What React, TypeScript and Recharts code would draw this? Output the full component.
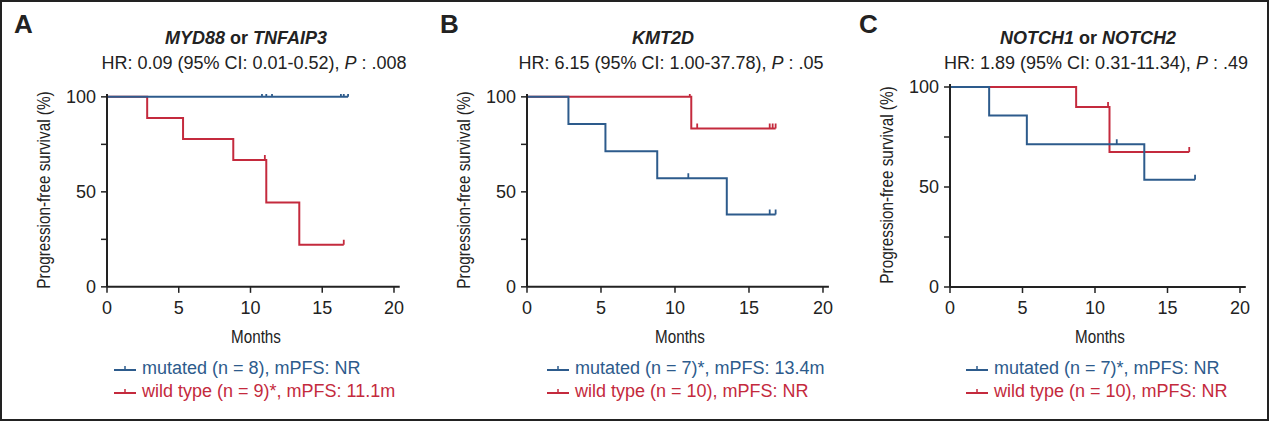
//Kaplan-Meier panels drawn with Recharts step lines
import React from "react";
import { LineChart, Line, XAxis, YAxis } from "recharts";

const BLUE = "#2d5b8c";
const RED = "#c42a3d";
const INK = "#222";
const SANS = "'Liberation Sans', Arial, Helvetica, sans-serif";

// A: MYD88 or TNFAIP3 (t = months, s = survival %, c = censored)
const aMutT = [0, 10.8, 11.1, 11.5, 16.3, 16.5, 16.8];
const aMutS = [100, 100, 100, 100, 100, 100, 100];
const aMutC = [0, 1, 1, 1, 1, 1, 1];
const aWildT = [0, 2.8, 5.3, 8.8, 11.0, 11.1, 13.4, 16.5];
const aWildS = [100, 88.9, 77.8, 66.7, 66.7, 44.4, 22.2, 22.2];
const aWildC = [0, 0, 0, 0, 1, 0, 0, 1];

// B: KMT2D
const bMutT = [0, 2.8, 5.3, 8.8, 10.9, 13.5, 16.4, 16.8];
const bMutS = [100, 85.7, 71.4, 57.1, 57.1, 38.1, 38.1, 38.1];
const bMutC = [0, 0, 0, 0, 1, 0, 1, 1];
const bWildT = [0, 11.0, 11.1, 11.5, 16.4, 16.6, 16.8];
const bWildS = [100, 100, 83.3, 83.3, 83.3, 83.3, 83.3];
const bWildC = [0, 1, 0, 1, 1, 1, 1];

// C: NOTCH1 or NOTCH2
const cMutT = [0, 2.7, 5.3, 11.5, 13.4, 16.9];
const cMutS = [100, 85.7, 71.4, 71.4, 53.6, 53.6];
const cMutC = [0, 0, 0, 1, 0, 1];
const cWildT = [0, 8.7, 10.9, 11.0, 16.5];
const cWildS = [100, 90, 90, 67.5, 67.5];
const cWildC = [0, 0, 1, 0, 1];

const xTicks = [0, 5, 10, 15, 20];
const yTicks = [0, 25, 50, 75, 100];
const yLabelled = [0, 50, 100];

const rows = (t: number[], s: number[], c: number[]) =>
  t.map((v, i) => ({ t: v, s: s[i], c: c[i] }));

const XMAX = 20.4;
const YMAX = 101.5;
const YW = 60;
const XH = 36;

type Geo = { x0: number; x20: number; y0: number; y100: number };

const censorDot = (color: string) => (props: any) => {
  const { cx, cy, payload, index } = props;
  if (!payload || !payload.c) return <g key={"d" + index} />;
  return (
    <line
      key={"d" + index}
      x1={cx}
      x2={cx}
      y1={cy}
      y2={cy - 5}
      stroke={color}
      strokeWidth={1.8}
    />
  );
};

const YTick = (props: any) => {
  const { x, y, payload } = props;
  if (!yLabelled.includes(payload.value)) return <g />;
  return (
    <text x={x} y={y} dx={-3} dy={6} textAnchor="end" fontSize={18} fill={INK} fontFamily={SANS}>
      {payload.value}
    </text>
  );
};

function KM({
  geo,
  mut,
  wild,
}: {
  geo: Geo;
  mut: { t: number; s: number; c: number }[];
  wild: { t: number; s: number; c: number }[];
}) {
  const plotW = ((geo.x20 - geo.x0) * XMAX) / 20;
  const plotH = ((geo.y0 - geo.y100) * YMAX) / 100;
  const top = geo.y0 - plotH - 10;
  return (
    <div style={{ position: "absolute", left: geo.x0 - YW, top }}>
      <LineChart
        width={YW + plotW + 10}
        height={10 + plotH + XH}
        margin={{ top: 10, right: 10, left: 0, bottom: 0 }}
      >
        <XAxis
          dataKey="t"
          type="number"
          domain={[0, XMAX]}
          ticks={xTicks}
          allowDataOverflow
          height={XH}
          axisLine={{ stroke: INK, strokeWidth: 2 }}
          tickLine={{ stroke: INK, strokeWidth: 1.5 }}
          tickSize={6}
          tickMargin={8}
          tick={{ fontSize: 18, fill: INK, fontFamily: SANS }}
        />
        <YAxis
          type="number"
          domain={[0, YMAX]}
          ticks={yTicks}
          width={YW}
          allowDataOverflow
          axisLine={{ stroke: INK, strokeWidth: 2 }}
          tickLine={{ stroke: INK, strokeWidth: 1.5 }}
          tickSize={6}
          tick={<YTick />}
        />
        <Line
          data={wild}
          dataKey="s"
          type="stepAfter"
          stroke={RED}
          strokeWidth={2}
          dot={censorDot(RED)}
          activeDot={false}
          isAnimationActive={false}
        />
        <Line
          data={mut}
          dataKey="s"
          type="stepAfter"
          stroke={BLUE}
          strokeWidth={2}
          dot={censorDot(BLUE)}
          activeDot={false}
          isAnimationActive={false}
        />
      </LineChart>
    </div>
  );
}

const at = (x: number, y: number, extra: React.CSSProperties = {}): React.CSSProperties => ({
  position: "absolute",
  left: x,
  top: y,
  transform: "translate(-50%, -50%)",
  whiteSpace: "nowrap",
  fontFamily: SANS,
  color: INK,
  ...extra,
});

function Glyph({ color }: { color: string }) {
  return (
    <svg width={22} height={10} style={{ display: "block" }}>
      <line x1={0} x2={22} y1={6} y2={6} stroke={color} strokeWidth={2} />
      <line x1={11} x2={11} y1={6} y2={2} stroke={color} strokeWidth={1.5} />
    </svg>
  );
}

function LegendRow({ x, y, color, label }: { x: number; y: number; color: string; label: string }) {
  return (
    <div
      style={{
        position: "absolute",
        left: x,
        top: y - 11,
        display: "flex",
        alignItems: "center",
        gap: 6,
        fontFamily: SANS,
        fontSize: 18,
        color,
        whiteSpace: "nowrap",
      }}
    >
      <Glyph color={color} />
      <span>{label}</span>
    </div>
  );
}

function PanelText({
  letter,
  letterX,
  title,
  hr,
  p,
  cx,
  geo,
  legX,
  mutLabel,
  wildLabel,
}: {
  letter: string;
  letterX: number;
  title: React.ReactNode;
  hr: string;
  p: string;
  cx: number;
  geo: Geo;
  legX: number;
  mutLabel: string;
  wildLabel: string;
}) {
  const mid = (geo.x0 + geo.x20) / 2;
  return (
    <>
      <div style={{ position: "absolute", left: letterX, top: 9, fontFamily: SANS, fontSize: 26, fontWeight: 700, color: INK }}>
        {letter}
      </div>
      <div style={at(cx - 8, 38, { fontSize: 18, fontWeight: 700 })}>{title}</div>
      <div style={at(cx, 63, { fontSize: 18 })}>
        {hr}, <i>P</i> : {p}
      </div>
      <div
        style={at(geo.x0 - 63, (geo.y0 + geo.y100) / 2 - 2, {
          fontSize: 18,
          transform: "translate(-50%, -50%) rotate(-90deg) scaleX(0.85)",
        })}
      >
        Progression-free survival (%)
      </div>
      <div style={at(mid + 5, 337, { fontSize: 19, transform: "translate(-50%, -50%) scaleX(0.8)" })}>Months</div>
      <LegendRow x={legX} y={369} color={BLUE} label={mutLabel} />
      <LegendRow x={legX} y={392} color={RED} label={wildLabel} />
    </>
  );
}

const geoA: Geo = { x0: 107, x20: 394, y0: 287, y100: 97 };
const geoB: Geo = { x0: 527, x20: 823, y0: 287, y100: 97 };
const geoC: Geo = { x0: 950, x20: 1240, y0: 287, y100: 87 };

export default function App() {
  return (
    <div
      style={{
        position: "absolute",
        left: 0,
        top: 0,
        width: 1269,
        height: 421,
        boxSizing: "border-box",
        border: "2px solid #222",
        background: "#fff",
      }}
    >
      <div style={{ position: "absolute", left: -2, top: -2 }}>
        <KM geo={geoA} mut={rows(aMutT, aMutS, aMutC)} wild={rows(aWildT, aWildS, aWildC)} />
        <KM geo={geoB} mut={rows(bMutT, bMutS, bMutC)} wild={rows(bWildT, bWildS, bWildC)} />
        <KM geo={geoC} mut={rows(cMutT, cMutS, cMutC)} wild={rows(cWildT, cWildS, cWildC)} />
        <PanelText
          letter="A"
          letterX={14}
          title={<><i>MYD88</i> or <i>TNFAIP3</i></>}
          hr="HR: 0.09 (95% CI: 0.01-0.52)"
          p=".008"
          cx={254}
          geo={geoA}
          legX={114}
          mutLabel="mutated (n = 8), mPFS: NR"
          wildLabel="wild type (n = 9)*, mPFS: 11.1m"
        />
        <PanelText
          letter="B"
          letterX={440}
          title={<i>KMT2D</i>}
          hr="HR: 6.15 (95% CI: 1.00-37.78)"
          p=".05"
          cx={671}
          geo={geoB}
          legX={547}
          mutLabel="mutated (n = 7)*, mPFS: 13.4m"
          wildLabel="wild type (n = 10), mPFS: NR"
        />
        <PanelText
          letter="C"
          letterX={859}
          title={<><i>NOTCH1</i> or <i>NOTCH2</i></>}
          hr="HR: 1.89 (95% CI: 0.31-11.34)"
          p=".49"
          cx={1096}
          geo={geoC}
          legX={966}
          mutLabel="mutated (n = 7)*, mPFS: NR"
          wildLabel="wild type (n = 10), mPFS: NR"
        />
      </div>
    </div>
  );
}
